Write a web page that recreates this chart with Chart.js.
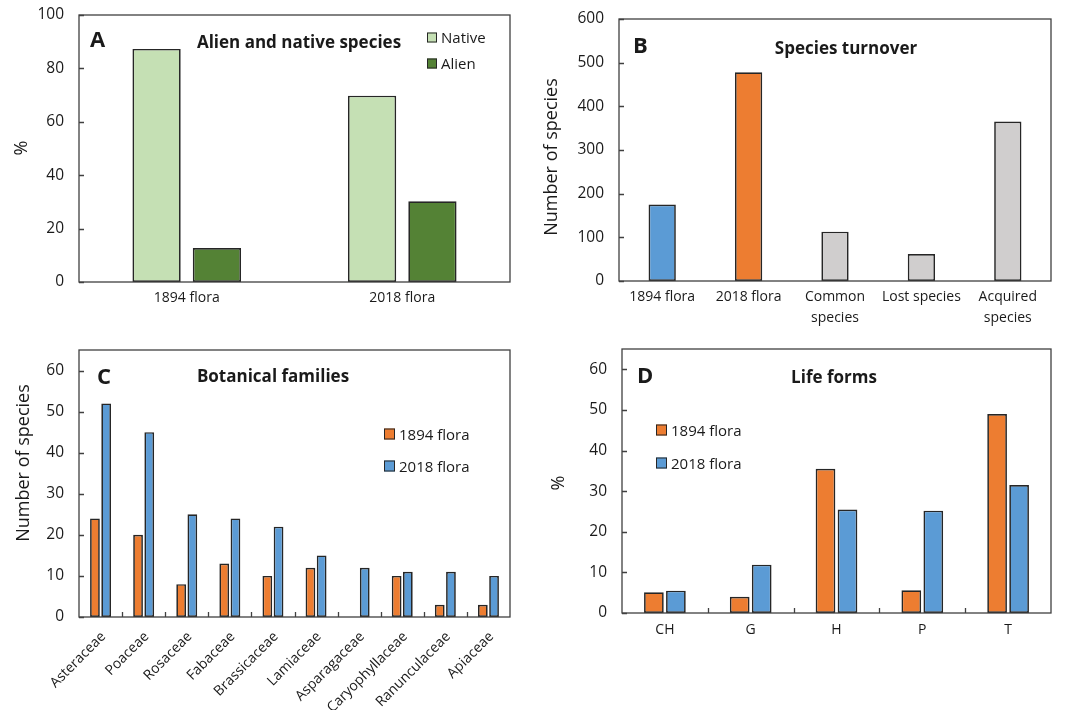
<!DOCTYPE html>
<html>
<head>
<meta charset="utf-8">
<title>Flora comparison 1894 vs 2018</title>
<script src="https://cdn.jsdelivr.net/npm/chart.js"></script>
<style>
  body { margin: 0; background: #fff; font-family: "Open Sans", sans-serif; color: #1a1a1a; }
  #wrap { position: relative; width: 1070px; height: 710px; overflow: hidden; }
  canvas { position: absolute; }
  .txt { position: absolute; white-space: nowrap; line-height: 1; }
  .letter { font-weight: 700; font-size: 22px; transform: translateY(-50%); }
  .ttl { font-weight: 700; font-size: 17px; transform: translate(-50%, -50%); }
  .ytitle { font-size: 18px; transform: translate(-50%, -50%) rotate(-90deg); }
  .leg { font-size: 15px; transform: translateY(-50%); display: flex; align-items: center; }
  .leg i { display: inline-block; border: 1.3px solid #262626; margin-right: 4px; box-sizing: border-box; }
</style>
</head>
<body>
<div id="wrap">
  <canvas id="chartA" width="535" height="340" style="left:0;top:0"></canvas>
  <canvas id="chartB" width="535" height="340" style="left:535px;top:0"></canvas>
  <canvas id="chartC" width="535" height="370" style="left:0;top:340px"></canvas>
  <canvas id="chartD" width="535" height="370" style="left:535px;top:340px"></canvas>

  <!-- panel letters and titles -->
  <div class="txt letter" style="left:90px;top:38px">A</div>
  <div class="txt ttl" style="left:299px;top:41px">Alien and native species</div>
  <div class="txt letter" style="left:633px;top:44px">B</div>
  <div class="txt ttl" style="left:846px;top:47px">Species turnover</div>
  <div class="txt letter" style="left:97px;top:375px">C</div>
  <div class="txt ttl" style="left:273px;top:375px">Botanical families</div>
  <div class="txt letter" style="left:637px;top:374px">D</div>
  <div class="txt ttl" style="left:834px;top:376px">Life forms</div>

  <!-- y axis titles -->
  <div class="txt ytitle" style="left:20px;top:148px">%</div>
  <div class="txt ytitle" style="left:550px;top:157px">Number of species</div>
  <div class="txt ytitle" style="left:22px;top:463px">Number of species</div>
  <div class="txt ytitle" style="left:557px;top:483px">%</div>

  <!-- legends (filled in from the dataset colours below) -->
  <div id="legA"></div>
  <div id="legC"></div>
  <div id="legD"></div>
</div>

<script>
// ---- data ----
const floraLabels = ["1894 flora", "2018 flora"];
const nativePct = [87.3, 69.8];
const alienPct = [12.7, 30.2];

const turnoverLabels = ["1894 flora", "2018 flora", ["Common", "species"], "Lost species", ["Acquired", "species"]];
const turnoverCounts = [175, 478, 113, 62, 365];

const familyLabels = ["Asteraceae", "Poaceae", "Rosaceae", "Fabaceae", "Brassicaceae", "Lamiaceae",
  "Asparagaceae", "Caryophyllaceae", "Ranunculaceae", "Apiaceae"];
const families1894 = [24, 20, 8, 13, 10, 12, 0, 10, 3, 3];
const families2018 = [52, 45, 25, 24, 22, 15, 12, 11, 11, 10];

const lifeFormLabels = ["CH", "G", "H", "P", "T"];
const lifeForms1894 = [5.1, 4.0, 35.5, 5.6, 49.0];
const lifeForms2018 = [5.5, 11.9, 25.5, 25.2, 31.5];

// ---- colours ----
const lightGreen = "#C5E0B4";
const darkGreen = "#548235";
const orange = "#ED7D31";
const blue = "#5B9BD5";
const grey = "#D0CECE";
const edge = "#262626";
const axisColor = "#404040";
const xFont = { family: "'Open Sans', sans-serif", size: 14, lineHeight: 1.5 };
const yFont = { family: "'Open Sans', sans-serif", size: 15.5 };

// frame around the plot area, inward tick marks on y (and on x for C/D)
const framePlugin = {
  id: "frame",
  afterDatasetsDraw(chart, args, opts) {
    const { ctx, chartArea: a, scales } = chart;
    ctx.save();
    ctx.strokeStyle = axisColor;
    ctx.lineWidth = 1.3;
    ctx.strokeRect(a.left, a.top, a.right - a.left, a.bottom - a.top);
    ctx.beginPath();
    scales.y.ticks.forEach((t) => {
      const py = Math.round(scales.y.getPixelForValue(t.value)) + 0.5;
      ctx.moveTo(a.left, py);
      ctx.lineTo(a.left + 5, py);
    });
    if (opts.xTicks) {
      const n = scales.x.ticks.length;
      for (let i = 1; i < n; i++) {
        const px = Math.round((scales.x.getPixelForValue(i - 1) + scales.x.getPixelForValue(i)) / 2) + 0.5;
        ctx.moveTo(px, a.bottom);
        ctx.lineTo(px, a.bottom - 5);
      }
    }
    ctx.stroke();
    ctx.restore();
  },
};

function bars(label, data, color, catPct, barPct) {
  return {
    label: label,
    data: data,
    backgroundColor: color,
    borderColor: edge,
    borderWidth: 1.7,
    borderSkipped: false,
    categoryPercentage: catPct,
    barPercentage: barPct,
  };
}

// area = wanted plot rectangle inside the canvas
function makeChart(id, labels, datasets, area, w, h, yMax, yStep, opts) {
  opts = opts || {};
  return new Chart(document.getElementById(id), {
    type: "bar",
    data: { labels: labels, datasets: datasets },
    options: {
      responsive: false,
      animation: false,
      layout: { padding: { left: 0, top: area.top, right: w - area.right, bottom: 0 } },
      plugins: {
        legend: { display: false },
        tooltip: { enabled: false },
        frame: { xTicks: !!opts.xTicks },
      },
      scales: {
        x: {
          grid: { display: false, drawTicks: false },
          border: { display: false },
          ticks: {
            font: xFont,
            color: "#1a1a1a",
            padding: opts.xPad || 6,
            labelOffset: opts.xShift || 0,
            autoSkip: false,
            maxRotation: opts.rot || 0,
            minRotation: opts.rot || 0,
          },
          afterFit(s) {
            s.height = h - area.bottom;
            s.paddingLeft = 0;
            s.paddingRight = 0;
          },
        },
        y: {
          min: 0,
          max: yMax,
          grid: { display: false, drawTicks: false },
          border: { display: false },
          ticks: { stepSize: yStep, font: yFont, color: "#1a1a1a", padding: 15 },
          // the axis runs to 65 in C and D, but only multiples of the step get a label
          afterBuildTicks(s) {
            s.ticks = s.ticks.filter((t) => t.value % yStep === 0);
          },
          afterFit(s) {
            s.width = area.left;
            s.paddingTop = 0;
            s.paddingBottom = 0;
          },
        },
      },
    },
    plugins: [framePlugin],
  });
}

const chartA = makeChart("chartA", floraLabels,
  [bars("Native", nativePct, lightGreen, 0.56, 0.8), bars("Alien", alienPct, darkGreen, 0.56, 0.8)],
  { left: 79, right: 510, top: 15, bottom: 282 }, 535, 340, 100, 20);

const chartB = makeChart("chartB", turnoverLabels,
  [bars("Species", turnoverCounts, [blue, orange, grey, grey, grey], 0.8, 0.395)],
  { left: 84, right: 516, top: 19, bottom: 281 }, 535, 340, 600, 100);

const chartC = makeChart("chartC", familyLabels,
  [bars("1894 flora", families1894, orange, 0.52, 0.87), bars("2018 flora", families2018, blue, 0.52, 0.87)],
  { left: 79, right: 510, top: 10, bottom: 277 }, 535, 370, 65, 10, { xTicks: true, rot: 45, xPad: 10, xShift: 3 });

const chartD = makeChart("chartD", lifeFormLabels,
  [bars("1894 flora", lifeForms1894, orange, 0.513, 0.895), bars("2018 flora", lifeForms2018, blue, 0.513, 0.895)],
  { left: 87, right: 516, top: 9, bottom: 273 }, 535, 370, 65, 10, { xTicks: true, xPad: 7 });

// legends inside the plot areas, built from the dataset colours
function buildLegend(divId, chart, x, ys, box) {
  const holder = document.getElementById(divId);
  chart.data.datasets.forEach((ds, i) => {
    const row = document.createElement("div");
    row.className = "txt leg";
    row.style.left = x + "px";
    row.style.top = ys[i] + "px";
    const sw = document.createElement("i");
    sw.style.width = box + "px";
    sw.style.height = box + "px";
    sw.style.background = ds.backgroundColor;
    row.appendChild(sw);
    row.appendChild(document.createTextNode(ds.label));
    holder.appendChild(row);
  });
}

buildLegend("legA", chartA, 427, [37, 63], 10);
buildLegend("legC", chartC, 384, [434, 466], 11);
buildLegend("legD", chartD, 656, [430, 463], 11);
</script>
</body>
</html>
